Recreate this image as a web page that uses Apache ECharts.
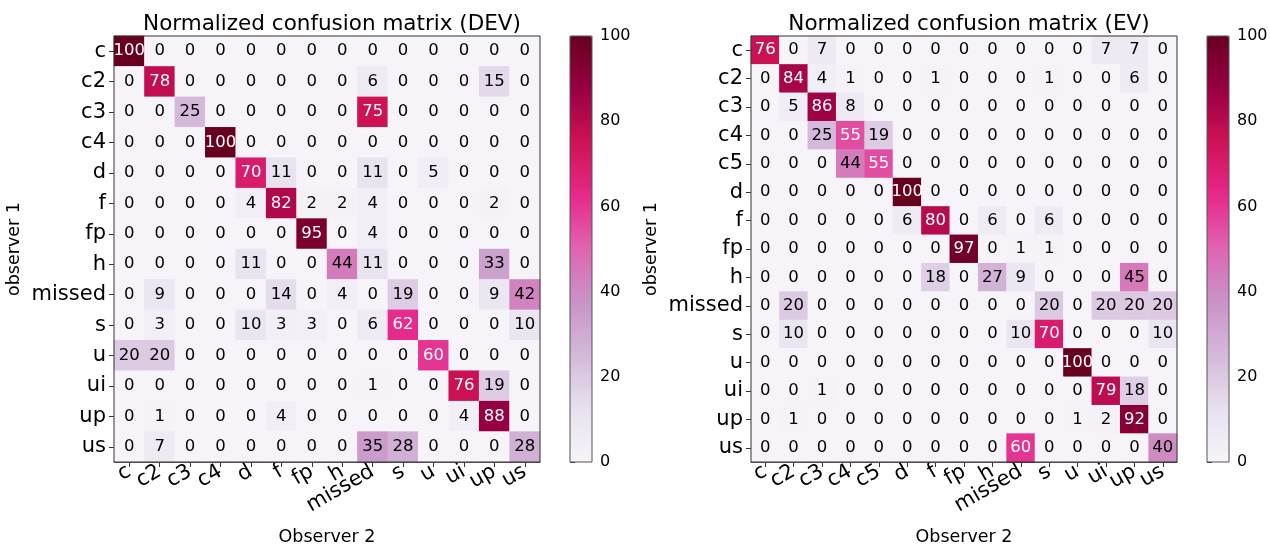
<!DOCTYPE html>
<html>
<head>
<meta charset="utf-8">
<script src="https://cdn.jsdelivr.net/npm/echarts@6/dist/echarts.min.js"></script>
<style>
html,body{margin:0;padding:0;background:#fff;}
#chart{width:1270px;height:546px;}
</style>
</head>
<body>
<div id="chart"></div>
<script>
var devCategories = ['c','c2','c3','c4','d','f','fp','h','missed','s','u','ui','up','us'];
var evCategories = ['c','c2','c3','c4','c5','d','f','fp','h','missed','s','u','ui','up','us'];

var devValues = [
  [100,0,0,0,0,0,0,0,0,0,0,0,0,0],
  [0,78,0,0,0,0,0,0,6,0,0,0,15,0],
  [0,0,25,0,0,0,0,0,75,0,0,0,0,0],
  [0,0,0,100,0,0,0,0,0,0,0,0,0,0],
  [0,0,0,0,70,11,0,0,11,0,5,0,0,0],
  [0,0,0,0,4,82,2,2,4,0,0,0,2,0],
  [0,0,0,0,0,0,95,0,4,0,0,0,0,0],
  [0,0,0,0,11,0,0,44,11,0,0,0,33,0],
  [0,9,0,0,0,14,0,4,0,19,0,0,9,42],
  [0,3,0,0,10,3,3,0,6,62,0,0,0,10],
  [20,20,0,0,0,0,0,0,0,0,60,0,0,0],
  [0,0,0,0,0,0,0,0,1,0,0,76,19,0],
  [0,1,0,0,0,4,0,0,0,0,0,4,88,0],
  [0,7,0,0,0,0,0,0,35,28,0,0,0,28]
];

var evValues = [
  [76,0,7,0,0,0,0,0,0,0,0,0,7,7,0],
  [0,84,4,1,0,0,1,0,0,0,1,0,0,6,0],
  [0,5,86,8,0,0,0,0,0,0,0,0,0,0,0],
  [0,0,25,55,19,0,0,0,0,0,0,0,0,0,0],
  [0,0,0,44,55,0,0,0,0,0,0,0,0,0,0],
  [0,0,0,0,0,100,0,0,0,0,0,0,0,0,0],
  [0,0,0,0,0,6,80,0,6,0,6,0,0,0,0],
  [0,0,0,0,0,0,0,97,0,1,1,0,0,0,0],
  [0,0,0,0,0,0,18,0,27,9,0,0,0,45,0],
  [0,20,0,0,0,0,0,0,0,0,20,0,20,20,20],
  [0,10,0,0,0,0,0,0,0,10,70,0,0,0,10],
  [0,0,0,0,0,0,0,0,0,0,0,100,0,0,0],
  [0,0,1,0,0,0,0,0,0,0,0,0,79,18,0],
  [0,1,0,0,0,0,0,0,0,0,0,1,2,92,0],
  [0,0,0,0,0,0,0,0,0,60,0,0,0,0,40]
];

var colorbarTicks = [0,20,40,60,80,100];

var PuRd = ['#f7f4f9','#e7e1ef','#d4b9da','#c994c7','#df65b0','#e7298a','#ce1256','#980043','#67001f'];
var FONT = 'DejaVu Sans';

function toData(m){
  var out = [];
  for (var r=0;r<m.length;r++){
    for (var c=0;c<m[r].length;c++){
      var v = m[r][c];
      out.push({value:[c,r,v], label:{color: v>50 ? '#ffffff' : '#000000'}});
    }
  }
  return out;
}

var gridDefs = [
  {left:114, top:36, width:426, height:426},
  {left:751, top:36, width:426, height:426}
];
var cbDefs = [
  {left:570, top:36, width:22, height:426},
  {left:1207, top:36, width:22, height:426}
];

function catX(gi, cats){
  return {
    type:'category', gridIndex:gi, data:cats, position:'bottom',
    axisLine:{show:true, lineStyle:{color:'#333', width:1}},
    axisTick:{show:true, alignWithLabel:true, length:5, lineStyle:{color:'#333'}},
    axisLabel:{rotate:30, fontSize:21, color:'#000', fontFamily:FONT, margin:8, interval:0},
    splitLine:{show:false},
    name:'Observer 2', nameLocation:'middle', nameGap:66,
    nameTextStyle:{fontSize:17.5, color:'#000', fontFamily:FONT}
  };
}
function catY(gi, cats){
  return {
    type:'category', gridIndex:gi, data:cats, inverse:true, position:'left',
    axisLine:{show:true, lineStyle:{color:'#333', width:1}},
    axisTick:{show:true, alignWithLabel:true, length:5, lineStyle:{color:'#333'}},
    axisLabel:{fontSize:21, color:'#000', fontFamily:FONT, margin:8, interval:0},
    splitLine:{show:false},
    name:'observer 1', nameLocation:'middle', nameGap:91, nameRotate:90,
    nameTextStyle:{fontSize:17.5, color:'#000', fontFamily:FONT}
  };
}

function gridOf(def, color){
  return Object.assign({show:true, borderColor:color, borderWidth:1, backgroundColor:'transparent',
    z:10, containLabel:false, outerBoundsMode:'none'}, def);
}

var option = {
  backgroundColor:'#ffffff',
  animation:false,
  title:[
    {text:'Normalized confusion matrix (DEV)', left:327, top:8, textAlign:'center',
     textStyle:{fontSize:21.5, fontWeight:'normal', color:'#000', fontFamily:FONT}},
    {text:'Normalized confusion matrix (EV)', left:964, top:8, textAlign:'center',
     textStyle:{fontSize:21.5, fontWeight:'normal', color:'#000', fontFamily:FONT}}
  ],
  grid:[
    gridOf(gridDefs[0], '#333'),
    gridOf(gridDefs[1], '#333'),
    gridOf(cbDefs[0], '#555'),
    gridOf(cbDefs[1], '#555')
  ],
  xAxis:[
    catX(0, devCategories),
    catX(1, evCategories),
    {type:'value', gridIndex:2, min:0, max:1, show:false},
    {type:'value', gridIndex:3, min:0, max:1, show:false}
  ],
  yAxis:[
    catY(0, devCategories),
    catY(1, evCategories),
    {type:'value', gridIndex:2, min:colorbarTicks[0], max:colorbarTicks[colorbarTicks.length-1], interval:20, position:'right',
     axisLine:{show:false}, axisTick:{show:true, length:5, lineStyle:{color:'#333'}},
     axisLabel:{fontSize:16, color:'#000', fontFamily:FONT, margin:8}, splitLine:{show:false}},
    {type:'value', gridIndex:3, min:colorbarTicks[0], max:colorbarTicks[colorbarTicks.length-1], interval:20, position:'right',
     axisLine:{show:false}, axisTick:{show:true, length:5, lineStyle:{color:'#333'}},
     axisLabel:{fontSize:16, color:'#000', fontFamily:FONT, margin:8}, splitLine:{show:false}}
  ],
  visualMap:[
    {type:'continuous', seriesIndex:0, min:0, max:100, calculable:false, hoverLink:false,
     left:cbDefs[0].left, top:cbDefs[0].top, itemWidth:cbDefs[0].width, itemHeight:cbDefs[0].height,
     padding:0, text:null, showLabel:false, inRange:{color:PuRd}},
    {type:'continuous', seriesIndex:1, min:0, max:100, calculable:false, hoverLink:false,
     left:cbDefs[1].left, top:cbDefs[1].top, itemWidth:cbDefs[1].width, itemHeight:cbDefs[1].height,
     padding:0, text:null, showLabel:false, inRange:{color:PuRd}}
  ],
  series:[
    {type:'heatmap', xAxisIndex:0, yAxisIndex:0, data:toData(devValues),
     label:{show:true, fontSize:16.5, fontFamily:FONT, formatter:function(p){return p.value[2];}},
     emphasis:{disabled:true}},
    {type:'heatmap', xAxisIndex:1, yAxisIndex:1, data:toData(evValues),
     label:{show:true, fontSize:16.5, fontFamily:FONT, formatter:function(p){return p.value[2];}},
     emphasis:{disabled:true}}
  ]
};

var chart = echarts.init(document.getElementById('chart'), null, {renderer:'canvas'});
chart.setOption(option);
</script>
</body>
</html>
